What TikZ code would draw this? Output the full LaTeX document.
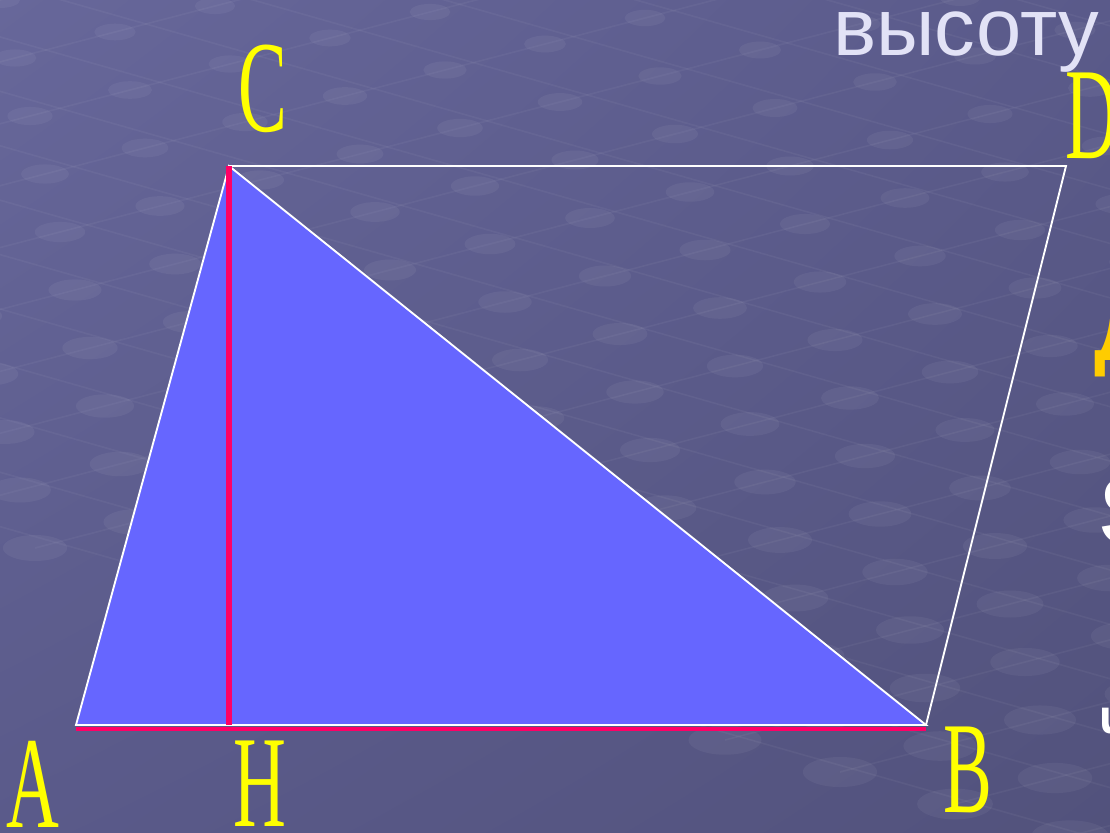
\documentclass[tikz,border=0pt]{standalone}
\usepackage{fontspec}
\usetikzlibrary{shadings}
\setmainfont{Liberation Serif}
\newfontfamily\sansf{Liberation Sans}
\definecolor{bgA}{HTML}{67679A}
\definecolor{bgB}{HTML}{5A5A8A}
\definecolor{bgC}{HTML}{52527C}
\definecolor{trifill}{HTML}{6666FF}
\definecolor{hred}{HTML}{FF0066}
\definecolor{lbl}{HTML}{FFFF00}
\definecolor{ttl}{HTML}{E2E2F6}
\definecolor{gold}{HTML}{FFCC00}
\tikzset{
  edge/.style={draw=white, line width=1.4pt},
  heightline/.style={draw=hred, line width=5.2pt},
  baseline/.style={draw=hred, line width=3.6pt},
  vlabel/.style={text=lbl, inner sep=0pt, font=\fontsize{98}{98}\selectfont},
  frag/.style={inner sep=0pt, font=\sansf\bfseries},
  netline/.style={draw=white, opacity=0.045, line width=1.2pt},
  netdot/.style={fill=white, opacity=0.05}
}
\begin{document}
\begin{tikzpicture}[x=0.75pt,y=-0.75pt]
\useasboundingbox (0,0) rectangle (1110,832);
\begin{scope}
\clip (0,0) rectangle (1110,832);
\shade[upper left=bgA, upper right=bgB, lower left=bgB, lower right=bgC] (0,0) rectangle (1110,832);
% faint background net
\foreach \i in {-10,...,14}{
  \draw[netline] ({100*\i-1100},{-26*\i-330}) -- ({100*\i+115*26},{-26*\i+32*26});
}
\foreach \j in {-10,...,28}{
  \draw[netline] ({115*\j-100*10},{32*\j+26*10}) -- ({115*\j+100*14},{32*\j-26*14});
}
\foreach \i in {-10,...,14}{
  \foreach \j in {-10,...,28}{
    \pgfmathsetmacro{\px}{100*\i+115*\j}
    \pgfmathsetmacro{\py}{-26*\i+32*\j}
    \ifdim \px pt>-40pt \ifdim \px pt<1150pt \ifdim \py pt>-20pt \ifdim \py pt<850pt
      \fill[netdot] (\px,\py) ellipse ({20+\py/45} and {8+\py/110});
    \fi\fi\fi\fi
  }
}
% cut-off text at the right edge
\node[frag, text=gold, font=\sansf\bfseries\fontsize{62}{62}\selectfont, anchor=base west] (fragD) at (1094,360) {Д};
\node[frag, text=white, font=\sansf\bfseries\fontsize{73}{73}\selectfont, anchor=base west] (fragS) at (1099,544) {S};
\node[frag, text=white, font=\sansf\bfseries\fontsize{36}{36}\selectfont, anchor=base west] (fragU) at (1099,733) {u};
\end{scope}

\coordinate (A) at (76,725);
\coordinate (B) at (926,725);
\coordinate (C) at (229,166);
\coordinate (D) at (1066,166);
\coordinate (H) at (229,725);
\coordinate (A2) at (76,729);
\coordinate (B2) at (926,729);

\fill[trifill] (A) -- (B) -- (C) -- cycle;
\draw[baseline] (A2) -- (B2);
\draw[edge] (A) -- (B) -- (C) -- cycle;
\draw[edge] (C) -- (D) -- (B);
\draw[heightline] (C) -- (H);

\node[vlabel] (lC) at (263,89) {\scalebox{0.56}[1]{C}};
\node[vlabel] (lD) at (1092,116) {\scalebox{0.56}[1]{D}};
\node[vlabel] (lA) at (33,784) {\scalebox{0.56}[1]{A}};
\node[vlabel] (lH) at (260,784) {\scalebox{0.56}[1]{H}};
\node[vlabel] (lB) at (968,770) {\scalebox{0.56}[1]{B}};

\node[text=ttl, inner sep=0pt, anchor=base west, font=\sansf\fontsize{61}{61}\selectfont] (title) at (833,55) {высоту};
\end{tikzpicture}
\end{document}
